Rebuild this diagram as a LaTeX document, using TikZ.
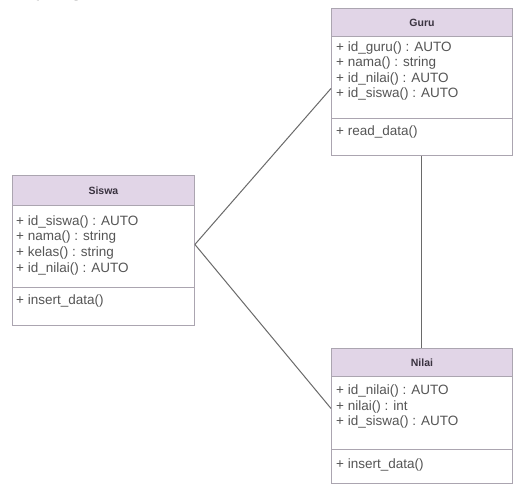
\documentclass[tikz,border=0pt]{standalone}
\usepackage{fontspec}
\setmainfont{Liberation Sans}
\newfontfamily\leadfont{Liberation Serif}
\definecolor{umlhead}{HTML}{E1D5E7}
\definecolor{umlline}{HTML}{ABA5B0}
\definecolor{umltext}{HTML}{555555}
\definecolor{umltitle}{HTML}{3A3340}
\definecolor{umllink}{HTML}{6A6A6A}
\tikzset{
  classbox/.style={draw=umlline, line width=0.9pt, fill=white, anchor=north west, inner sep=0pt, minimum width=181},
  headbox/.style={classbox, fill=umlhead},
  title/.style={text=umltitle, font=\bfseries\fontsize{10.5}{10.5}\selectfont},
  member/.style={anchor=west, inner sep=0pt, text=umltext, font=\fontsize{13.5}{13.5}\selectfont},
  link/.style={draw=umllink, line width=1pt},
}
\begin{document}
\begin{tikzpicture}[x=1pt,y=-1pt]
\fill[white] (0,0) rectangle (513,485);
\useasboundingbox (0,0) rectangle (513,485);
\begin{scope}
\clip (0,0) rectangle (513,485);
\node[anchor=base west, inner sep=0pt, font=\leadfont\fontsize{24}{24}\selectfont] (lead) at (3,-5) {asi yang diolah.};
\end{scope}
% Siswa
\node[classbox, minimum width=182, minimum height=150] (siswa) at (12,175) {};
\node[headbox, minimum width=182, minimum height=30] (siswahead) at (12,175) {};
\node[title] (siswatitle) at (siswahead.center) {Siswa};
\draw[umlline, line width=0.9pt] (12,287) -- (194,287);
\node[member] (siswa1) at (16,222) {+ id\_siswa() : AUTO};
\node[member] (siswa2) at (16,237.5) {+ nama() : string};
\node[member] (siswa3) at (16,253) {+ kelas() : string};
\node[member] (siswa4) at (16,268.5) {+ id\_nilai() : AUTO};
\node[member] (siswa5) at (16,301) {+ insert\_data()};
% Guru
\node[classbox, minimum height=147] (guru) at (331,8) {};
\node[headbox, minimum height=28] (guruhead) at (331,8) {};
\node[title] (gurutitle) at (guruhead.center) {Guru};
\draw[umlline, line width=0.9pt] (331,118) -- (512,118);
\node[member] (guru1) at (336,48) {+ id\_guru() : AUTO};
\node[member] (guru2) at (336,63.5) {+ nama() : string};
\node[member] (guru3) at (336,79) {+ id\_nilai() : AUTO};
\node[member] (guru4) at (336,94.5) {+ id\_siswa() : AUTO};
\node[member] (guru5) at (336,132) {+ read\_data()};
% Nilai
\node[classbox, minimum height=135] (nilai) at (331,348) {};
\node[headbox, minimum height=28] (nilaihead) at (331,348) {};
\node[title] (nilaititle) at (nilaihead.center) {Nilai};
\draw[umlline, line width=0.9pt] (331,449) -- (512,449);
\node[member] (nilai1) at (336,391) {+ id\_nilai() : AUTO};
\node[member] (nilai2) at (336,406.5) {+ nilai() : int};
\node[member] (nilai3) at (336,422) {+ id\_siswa() : AUTO};
\node[member] (nilai4) at (336,465) {+ insert\_data()};
% relasi
\draw[link] ([yshift=6pt]siswa.east) -- ([yshift=-6.5pt]guru.west);
\draw[link] ([yshift=6pt]siswa.east) -- ([yshift=7.5pt]nilai.west);
\draw[link] (guru.south) -- (nilai.north);
\end{tikzpicture}
\end{document}
